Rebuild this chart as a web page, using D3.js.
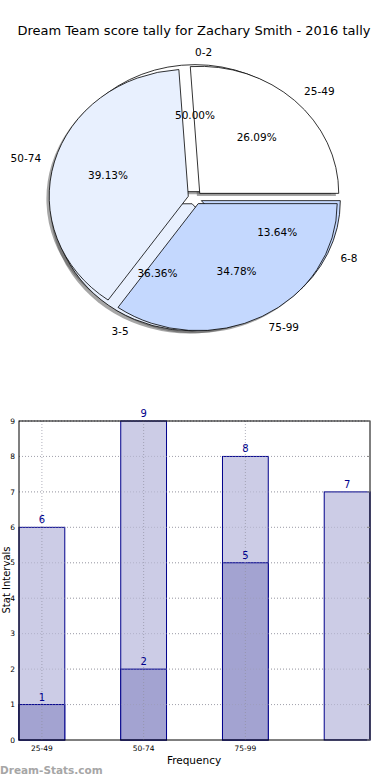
<!DOCTYPE html>
<html>
<head>
<meta charset="utf-8">
<script src="https://cdn.jsdelivr.net/npm/d3@7"></script>
<style>
body { margin: 0; background: #fff; }
text { font-family: "DejaVu Sans", sans-serif; }
</style>
</head>
<body>
<svg width="390" height="780"></svg>
<script>
// data
var titleText = 'Dream Team score tally for Zachary Smith - 2016 tally';
var outerLabels = ['25-49', '50-74', '75-99'];
var outerValues = [6, 9, 8];
var innerLabels = ['0-2', '3-5', '6-8'];
var innerValues = [11, 8, 3];
var barCategories = ['25-49', '50-74', '75-99', ''];
var lightValues = [6, 9, 8, 7];
var darkValues = [1, 2, 5];
var yTicks = [0, 1, 2, 3, 4, 5, 6, 7, 8, 9];

var sliceColors = ['#ffffff', '#e8f0fe', '#c4d8fe'];

var svg = d3.select('svg');

// title
svg.append('text')
    .attr('x', 194).attr('y', 35)
    .attr('text-anchor', 'middle')
    .style('font-size', '13px')
    .text(titleText);

// pie set up (elliptical, like the original)
var pie = {cx: 195, cy: 198, rx: 139, ry: 127, explode: 0.05};
var pieShadow = svg.append('g');
var pieWedges = svg.append('g');
var pieText = svg.append('g');
var arcGen = d3.arc().innerRadius(0).outerRadius(1);

function px(m, k) { return pie.cx + pie.rx * k * Math.sin(m); }
function py(m, k) { return pie.cy - pie.ry * k * Math.cos(m); }

function drawPie(values, labels) {
    var total = d3.sum(values);
    var arcs = d3.pie().sort(null)
        .startAngle(Math.PI / 2)
        .endAngle(Math.PI / 2 - 2 * Math.PI)(values);
    arcs.forEach(function(a, i) {
        var m = (a.startAngle + a.endAngle) / 2;
        var ox = px(m, pie.explode), oy = py(m, pie.explode);
        pieShadow.append('path')
            .attr('d', arcGen(a))
            .attr('transform', 'translate(' + [ox - 2.8, oy + 2.6] + ')scale(' + [pie.rx, pie.ry] + ')')
            .attr('fill', '#4d4d4d')
            .attr('fill-opacity', 0.5);
        pieWedges.append('path')
            .attr('d', arcGen(a))
            .attr('transform', 'translate(' + [ox, oy] + ')scale(' + [pie.rx, pie.ry] + ')')
            .attr('fill', sliceColors[i])
            .attr('stroke', '#000')
            .attr('stroke-width', 0.8)
            .attr('vector-effect', 'non-scaling-stroke');
        var s = Math.sin(m);
        pieText.append('text')
            .attr('x', px(m, pie.explode + 1.1))
            .attr('y', py(m, pie.explode + 1.1))
            .attr('dy', '0.35em')
            .attr('text-anchor', s >= -1e-9 ? 'start' : 'end')
            .style('font-size', '10.5px')
            .text(labels[i]);
        pieText.append('text')
            .attr('x', px(m, pie.explode + 0.6))
            .attr('y', py(m, pie.explode + 0.6))
            .attr('dy', '0.35em')
            .attr('text-anchor', 'middle')
            .style('font-size', '10.5px')
            .text(d3.format('.2f')(a.value / total * 100) + '%');
    });
}
// the inner tally sits underneath the main one
drawPie(innerValues, innerLabels);
drawPie(outerValues, outerLabels);

// bar chart
var plot = {l: 19, r: 370, t: 421, b: 740};
var xScale = d3.scaleLinear().domain([0, 3.45]).range([plot.l, plot.r]);
var yScale = d3.scaleLinear().domain([0, 9]).range([plot.b, plot.t]);
var barW = 0.45;
var navy = '#00008b';

var chartG = svg.append('g');

// grid
chartG.selectAll('.hgrid')
    .data(yTicks.slice(1))
    .enter().append('line')
    .attr('x1', plot.l).attr('x2', plot.r)
    .attr('y1', function(d) { return yScale(d); })
    .attr('y2', function(d) { return yScale(d); })
    .attr('stroke', '#b0b0b0')
    .attr('stroke-dasharray', '1,2');

var tickCats = barCategories.filter(function(c) { return c !== ''; });

// light bars
chartG.selectAll('.light')
    .data(lightValues)
    .enter().append('rect')
    .attr('x', function(d, i) { return xScale(i); })
    .attr('y', function(d) { return yScale(d); })
    .attr('width', function(d, i) { return xScale(i + barW) - xScale(i); })
    .attr('height', function(d) { return yScale(0) - yScale(d); })
    .attr('fill', '#ccccE6')
    .attr('stroke', navy)
    .attr('stroke-width', 1);

// dark bars
chartG.selectAll('.dark')
    .data(darkValues)
    .enter().append('rect')
    .attr('x', function(d, i) { return xScale(i); })
    .attr('y', function(d) { return yScale(d); })
    .attr('width', function(d, i) { return xScale(i + barW) - xScale(i); })
    .attr('height', function(d) { return yScale(0) - yScale(d); })
    .attr('fill', '#a3a3d1')
    .attr('stroke', navy)
    .attr('stroke-width', 1);

// horizontal grid shows faintly over the bars
chartG.selectAll('.hgrid2')
    .data(yTicks.slice(1))
    .enter().append('line')
    .attr('x1', plot.l).attr('x2', plot.r)
    .attr('y1', function(d) { return yScale(d); })
    .attr('y2', function(d) { return yScale(d); })
    .attr('stroke', '#9a9ab0')
    .attr('stroke-opacity', 0.5)
    .attr('stroke-dasharray', '1,2');

// vertical grid
chartG.selectAll('.vgrid')
    .data(tickCats)
    .enter().append('line')
    .attr('x1', function(d, i) { return xScale(i + barW / 2); })
    .attr('x2', function(d, i) { return xScale(i + barW / 2); })
    .attr('y1', plot.t).attr('y2', plot.b)
    .attr('stroke', '#9090a0')
    .attr('stroke-opacity', 0.7)
    .attr('stroke-dasharray', '1,2');

// value labels
function valueLabels(values) {
    chartG.selectAll(null)
        .data(values)
        .enter().append('text')
        .attr('x', function(d, i) { return xScale(i + barW / 2); })
        .attr('y', function(d) { return yScale(d) - 4; })
        .attr('text-anchor', 'middle')
        .attr('fill', navy)
        .style('font-size', '10px')
        .text(function(d) { return d; });
}
valueLabels(lightValues);
valueLabels(darkValues);

// frame
chartG.append('rect')
    .attr('x', plot.l).attr('y', plot.t)
    .attr('width', plot.r - plot.l).attr('height', plot.b - plot.t)
    .attr('fill', 'none')
    .attr('stroke', '#000')
    .attr('stroke-width', 1);

// y ticks
chartG.selectAll('.ytick')
    .data(yTicks)
    .enter().append('text')
    .attr('x', plot.l - 4)
    .attr('y', function(d) { return yScale(d); })
    .attr('dy', '0.35em')
    .attr('text-anchor', 'end')
    .style('font-size', '7.5px')
    .text(function(d) { return d; });
chartG.selectAll('.ytickmark')
    .data(yTicks)
    .enter().append('line')
    .attr('x1', plot.r - 3).attr('x2', plot.r)
    .attr('y1', function(d) { return yScale(d); })
    .attr('y2', function(d) { return yScale(d); })
    .attr('stroke', '#888');

// x ticks
chartG.selectAll('.xtick')
    .data(tickCats)
    .enter().append('text')
    .attr('x', function(d, i) { return xScale(i + barW / 2); })
    .attr('y', plot.b + 11)
    .attr('text-anchor', 'middle')
    .style('font-size', '7.5px')
    .text(function(d) { return d; });

// axis labels
svg.append('text')
    .attr('x', 194).attr('y', 764)
    .attr('text-anchor', 'middle')
    .style('font-size', '10.5px')
    .text('Frequency');
svg.append('text')
    .attr('transform', 'translate(' + [9.5, 580] + ')rotate(-90)')
    .attr('text-anchor', 'middle')
    .style('font-size', '10px')
    .text('Stat Intervals');

// watermark
svg.append('text')
    .attr('x', 0).attr('y', 774)
    .attr('fill', '#a6a6a6')
    .style('font-size', '10.5px')
    .style('font-weight', 'bold')
    .text('Dream-Stats.com');
</script>
</body>
</html>
